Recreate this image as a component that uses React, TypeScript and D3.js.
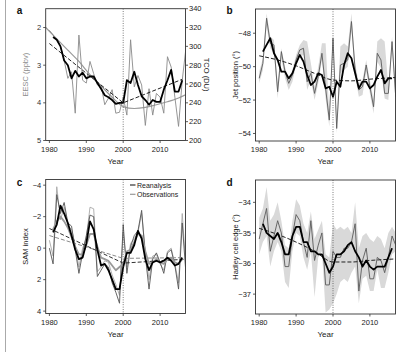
import React from "react";
import * as d3 from "d3";

const FONT = "'Liberation Sans', Arial, Helvetica, sans-serif";

// years: annual values 1980-2017, smoothed values 1981-2016
const annualYears = d3.range(1980, 2018);
const smoothYears = d3.range(1981, 2017);
const xTicks = [1980, 1990, 2000, 2010];

// panel a: total column ozone (DU) and EESC (ppbv)
const tcoAnnual = [317, 312, 307, 300, 285, 266, 273, 229, 312, 264, 261, 284, 271, 259, 259, 238, 245, 254, 229, 230, 246, 227, 307, 257, 269, 259, 216, 255, 227, 250, 246, 229, 289, 278, 246, 215, 264, 298];
const tcoSmooth = [310, 307, 300, 285, 280, 266, 274, 268, 272, 266, 268, 268, 261, 255, 248, 246, 243, 239, 240, 240, 264, 261, 273, 259, 247, 243, 238, 243, 241, 241, 254, 264, 275, 252, 252, 264];
const tcoTrendYears = [1980, 2000, 2016];
const tcoTrend = [303, 240, 265];
const eescYears = [1979, 1982, 1985, 1988, 1991, 1994, 1997, 2000, 2003, 2006, 2009, 2012, 2015, 2017];
const eesc = [2.0, 2.3, 2.6, 2.9, 3.25, 3.55, 3.85, 4.1, 4.15, 4.12, 4.05, 3.97, 3.87, 3.78];

// panel b: jet position (deg)
const jetAnnual = [-50.7, -49.8, -47.1, -48.6, -48.7, -51.5, -49.1, -50.3, -51.0, -50.5, -49.6, -49.0, -48.9, -50.9, -50.4, -51.6, -50.6, -49.2, -51.3, -53.2, -48.3, -53.7, -49.9, -49.8, -49.6, -47.3, -50.2, -51.4, -51.2, -49.9, -51.2, -52.4, -49.2, -49.6, -51.6, -51.6, -48.5, -51.8];
const jetHi = [-50.3, -49.5, -46.8, -48.2, -48.4, -51.0, -48.9, -50.0, -50.8, -50.2, -49.3, -48.7, -48.4, -48.5, -49.8, -51.2, -50.0, -48.6, -48.6, -52.8, -48.0, -53.2, -48.8, -48.6, -48.8, -46.8, -49.8, -51.0, -50.8, -49.6, -50.8, -52.0, -48.5, -48.3, -48.5, -51.2, -48.2, -51.4];
const jetLo = [-51.0, -50.2, -47.6, -48.9, -49.2, -51.9, -49.5, -50.7, -51.4, -50.9, -49.9, -49.4, -49.3, -51.4, -50.8, -52.0, -51.0, -49.6, -51.9, -53.6, -48.8, -54.0, -50.4, -50.2, -50.0, -47.8, -50.6, -51.8, -51.7, -50.3, -51.6, -52.8, -49.7, -50.1, -51.9, -52.0, -48.9, -52.3];
const jetSmooth = [-49.1, -48.7, -48.3, -49.2, -49.6, -50.3, -50.3, -50.7, -50.4, -49.8, -49.3, -49.7, -50.5, -51.1, -50.9, -50.4, -50.5, -51.3, -51.2, -51.8, -50.9, -51.2, -49.9, -49.2, -49.5, -50.4, -51.3, -50.9, -50.9, -51.3, -51.1, -50.6, -50.2, -51.0, -50.7, -50.7];
const jetTrendYears = [1980, 1985, 1990, 1995, 2000, 2005, 2010, 2017];
const jetTrend = [-49.35, -49.6, -49.95, -50.4, -50.8, -50.85, -50.75, -50.65];

// panel c: SAM index
const samReanAnnual = [0.0, 1.0, -3.4, -2.2, -2.9, -1.6, -1.4, 0.1, 1.6, 0.3, -0.8, -2.1, -2.0, 1.8, 1.4, 1.0, 1.2, 2.2, 2.8, 3.5, -1.5, 1.6, -0.1, -0.8, -1.1, -2.4, 0.5, 2.6, 0.7, 0.3, 0.9, 1.6, 0.3, 0.1, 1.1, 2.6, -1.6, 1.6];
const samObsAnnual = [-0.5, 0.5, -3.9, -1.8, -2.6, -1.4, -1.2, -0.2, 1.2, 0.0, -0.6, -2.6, -2.5, 1.5, 1.2, 0.8, 0.9, 1.7, 2.3, 3.0, -1.0, 1.2, -0.3, -0.6, -1.0, -2.2, 0.2, 2.0, 0.5, 0.4, 1.0, 1.4, 0.2, 0.0, 1.0, 2.2, -2.2, 1.2];
const samReanSmooth = [-1.0, -1.5, -2.7, -2.2, -1.6, -0.8, 0.1, 0.7, 0.6, -0.3, -1.7, -1.2, 0.1, 1.1, 1.0, 1.4, 2.0, 2.6, 2.6, 1.2, 0.3, 0.3, -0.2, -1.1, -0.6, 0.7, 1.4, 0.9, 0.8, 0.9, 0.8, 0.6, 0.8, 1.1, 1.0, 0.6];
const samObsSmooth = [-1.2, -1.7, -2.0, -1.7, -1.3, -0.7, -0.1, 0.4, 0.4, -0.2, -0.9, -0.9, -0.1, 0.6, 0.7, 0.8, 1.1, 1.4, 1.2, 1.0, 0.2, 0.1, -0.4, -0.9, -0.8, 0.2, 1.0, 0.9, 0.7, 0.9, 1.0, 0.7, 0.6, 0.9, 1.0, 0.7];
const samTrendYears = [1980, 2000, 2017];
const samReanTrend = [-1.25, 0.95, 0.7];
const samObsTrend = [-0.8, 0.65, 0.6];

// panel d: Hadley cell edge (deg)
const hadleyAnnual = [-35.2, -34.7, -34.2, -35.6, -35.1, -34.6, -35.0, -36.1, -36.1, -35.1, -34.4, -34.6, -35.3, -35.8, -34.6, -35.9, -35.4, -35.0, -36.7, -36.7, -35.6, -35.8, -35.8, -35.5, -35.5, -35.3, -34.7, -36.9, -35.9, -35.5, -36.5, -36.5, -35.8, -35.9, -36.3, -35.8, -35.1, -35.4];
const hadleyHi = [-34.5, -34.2, -33.5, -34.6, -34.4, -34.0, -34.6, -35.4, -35.5, -34.6, -33.9, -34.1, -34.7, -35.0, -34.3, -35.2, -34.9, -34.6, -35.7, -35.8, -34.7, -34.9, -34.8, -34.9, -34.8, -35.0, -34.0, -35.5, -35.1, -35.0, -35.2, -35.3, -35.1, -35.2, -35.5, -35.0, -34.8, -35.0];
const hadleyLo = [-35.7, -35.3, -35.1, -36.1, -35.6, -35.3, -35.6, -36.6, -36.8, -35.6, -35.0, -35.1, -35.8, -36.2, -35.6, -37.1, -35.8, -35.6, -37.6, -37.5, -37.3, -37.0, -36.6, -36.5, -36.6, -36.3, -36.1, -37.3, -36.5, -36.4, -36.9, -36.9, -36.2, -36.8, -36.8, -36.3, -35.7, -35.6];
const hadleySmooth = [-34.7, -35.0, -35.1, -35.2, -35.0, -35.3, -35.7, -35.7, -35.1, -34.8, -34.8, -35.3, -35.3, -35.6, -35.6, -35.7, -35.7, -36.0, -36.3, -36.1, -35.7, -35.7, -35.6, -35.4, -35.3, -35.6, -35.8, -36.1, -35.9, -36.1, -36.2, -36.1, -36.1, -36.1, -35.8, -35.5];
const hadleyTrendYears = [1980, 1985, 1990, 1995, 2000, 2005, 2010, 2017];
const hadleyTrend = [-34.85, -35.05, -35.3, -35.6, -35.95, -35.95, -35.9, -35.85];

type Box = { left: number; right: number; top: number; bottom: number };
type Lin = d3.ScaleLinear<number, number>;

const boxA: Box = { left: 45.7, right: 185.5, top: 8.7, bottom: 140.5 };
const boxB: Box = { left: 255.5, right: 395.5, top: 9, bottom: 141 };
const boxC: Box = { left: 45.7, right: 185.5, top: 179.5, bottom: 313.5 };
const boxD: Box = { left: 255.5, right: 395.5, top: 180, bottom: 314 };

const xScaleFor = (b: Box) =>
  d3.scaleLinear().domain([1980, 2010]).range([b.left + 3.7, b.left + 3.7 + 110.7]);

const linePath = (xs: number[], ys: number[], x: Lin, y: Lin, curve: d3.CurveFactory = d3.curveLinear) =>
  d3.line<number>().x((_, i) => x(xs[i])).y((d) => y(d)).curve(curve)(ys) || "";

const bandPath = (xs: number[], hi: number[], lo: number[], x: Lin, y: Lin) =>
  d3.area<number>().x((_, i) => x(xs[i])).y0((_, i) => y(lo[i])).y1((d) => y(d))(hi) || "";

const fmt = (v: number) => (v < 0 ? "\u2212" + Math.abs(v) : String(v));

function Panel(props: {
  id: string;
  box: Box;
  y: Lin;
  yTicks: number[];
  yLabel: string;
  yLabelColor?: string;
  yTickColor?: string;
  letter: string;
  letterY: number;
  marks: (x: Lin) => React.ReactNode;
}) {
  const { id, box, y, yTicks, yLabel, letter, letterY, marks } = props;
  const x = xScaleFor(box);
  const tickCol = props.yTickColor || "#222";
  return (
    <g>
      <defs>
        <clipPath id={id}>
          <rect x={box.left} y={box.top} width={box.right - box.left} height={box.bottom - box.top} />
        </clipPath>
      </defs>
      <g clipPath={`url(#${id})`}>
        {marks(x)}
        <line x1={x(2000)} x2={x(2000)} y1={box.top} y2={box.bottom} stroke="#333" strokeWidth={0.8} strokeDasharray="0.8,1.6" />
      </g>
      <rect x={box.left} y={box.top} width={box.right - box.left} height={box.bottom - box.top} fill="none" stroke="#333" strokeWidth={0.9} />
      {xTicks.map((t) => (
        <g key={t}>
          <line x1={x(t)} x2={x(t)} y1={box.bottom} y2={box.bottom + 2.5} stroke="#333" strokeWidth={0.8} />
          <text x={x(t)} y={box.bottom + 11} textAnchor="middle" fontSize={7.5} fill="#222">{t}</text>
        </g>
      ))}
      <text x={(box.left + box.right) / 2} y={box.bottom + 23} textAnchor="middle" fontSize={8} fill="#222">Year</text>
      {yTicks.map((t) => (
        <g key={t}>
          <line x1={box.left - 2.5} x2={box.left} y1={y(t)} y2={y(t)} stroke="#333" strokeWidth={0.8} />
          <text x={box.left - 4.5} y={y(t) + 2.6} textAnchor="end" fontSize={7.5} fill={tickCol}>{fmt(t)}</text>
        </g>
      ))}
      <text
        transform={`translate(${box.left - 18},${(box.top + box.bottom) / 2}) rotate(-90)`}
        textAnchor="middle"
        fontSize={7.5}
        fill={props.yLabelColor || "#222"}
      >
        {yLabel}
      </text>
      <text x={box.left - 29} y={letterY} fontSize={10} fontWeight="bold" fill="#111">{letter}</text>
    </g>
  );
}

export default function App() {
  const yEesc = d3.scaleLinear().domain([1.5, 5]).range([boxA.top, boxA.bottom]);
  const yTco = d3.scaleLinear().domain([340, 200]).range([boxA.top, boxA.bottom]);
  const yJet = d3.scaleLinear().domain([-46.55, -54.45]).range([boxB.top, boxB.bottom]);
  const ySam = d3.scaleLinear().domain([-4.36, 4.15]).range([boxC.top, boxC.bottom]);
  const yHad = d3.scaleLinear().domain([-33.27, -37.65]).range([boxD.top, boxD.bottom]);
  const tcoTicks = [200, 220, 240, 260, 280, 300, 320, 340];

  return (
    <svg width={404} height={352} style={{ position: "absolute", left: 0, top: 0, background: "#fff" }} fontFamily={FONT}>
      <rect x={0} y={0} width={404} height={352} fill="#fff" />
      <line x1={5.5} x2={5.5} y1={0} y2={352} stroke="#aaa" strokeWidth={1} />

      <Panel
        id="clipA"
        box={boxA}
        y={yEesc}
        yTicks={[2, 3, 4, 5]}
        yLabel="EESC (ppbv)"
        yLabelColor="#8c8c8c"
        yTickColor="#333"
        letter="a"
        letterY={14}
        marks={(x) => (
          <g fill="none">
            <path d={linePath(eescYears, eesc, x, yEesc, d3.curveMonotoneX)} stroke="#9a9a9a" strokeWidth={1.2} />
            <path d={linePath(annualYears, tcoAnnual, x, yTco)} stroke="#8a8a8a" strokeWidth={0.9} />
            <path d={linePath(tcoTrendYears, tcoTrend, x, yTco)} stroke="#222" strokeWidth={1} strokeDasharray="4,2" />
            <path d={linePath(smoothYears, tcoSmooth, x, yTco)} stroke="#000" strokeWidth={1.8} strokeLinejoin="round" />
          </g>
        )}
      />
      {tcoTicks.map((t) => (
        <g key={t}>
          <line x1={boxA.right} x2={boxA.right + 2.5} y1={yTco(t)} y2={yTco(t)} stroke="#333" strokeWidth={0.8} />
          <text x={boxA.right + 3.5} y={yTco(t) + 2.6} fontSize={7.5} fill="#222">{t}</text>
        </g>
      ))}
      <text transform={`translate(${boxA.right + 18.5},${(boxA.top + boxA.bottom) / 2}) rotate(90)`} textAnchor="middle" fontSize={7.5} fill="#222">
        TCO (DU)
      </text>

      <Panel
        id="clipB"
        box={boxB}
        y={yJet}
        yTicks={[-48, -50, -52, -54]}
        yLabel="Jet position (°)"
        letter="b"
        letterY={14}
        marks={(x) => (
          <g fill="none">
            <path d={bandPath(annualYears, jetHi, jetLo, x, yJet)} fill="#d9d9d9" stroke="none" />
            <path d={linePath(annualYears, jetAnnual, x, yJet)} stroke="#5a5a5a" strokeWidth={0.9} />
            <path d={linePath(jetTrendYears, jetTrend, x, yJet, d3.curveMonotoneX)} stroke="#222" strokeWidth={1} strokeDasharray="4,2" />
            <path d={linePath(smoothYears, jetSmooth, x, yJet)} stroke="#000" strokeWidth={1.8} strokeLinejoin="round" />
          </g>
        )}
      />

      <Panel
        id="clipC"
        box={boxC}
        y={ySam}
        yTicks={[-4, -2, 0, 2, 4]}
        yLabel="SAM index"
        letter="c"
        letterY={186}
        marks={(x) => (
          <g fill="none">
            <path d={linePath(annualYears, samObsAnnual, x, ySam)} stroke="#a8a8a8" strokeWidth={0.9} />
            <path d={linePath(annualYears, samReanAnnual, x, ySam)} stroke="#555" strokeWidth={0.9} />
            <path d={linePath(samTrendYears, samObsTrend, x, ySam)} stroke="#8a8a8a" strokeWidth={1} strokeDasharray="4,2" />
            <path d={linePath(samTrendYears, samReanTrend, x, ySam)} stroke="#333" strokeWidth={1} strokeDasharray="4,2" />
            <path d={linePath(smoothYears, samObsSmooth, x, ySam)} stroke="#9a9a9a" strokeWidth={1.8} strokeLinejoin="round" />
            <path d={linePath(smoothYears, samReanSmooth, x, ySam)} stroke="#000" strokeWidth={1.8} strokeLinejoin="round" />
          </g>
        )}
      />
      <g fontSize={7}>
        <line x1={130} x2={135.5} y1={185} y2={185} stroke="#333" strokeWidth={1.2} />
        <text x={137} y={187.5} fill="#222">Reanalysis</text>
        <line x1={130} x2={135.5} y1={194.3} y2={194.3} stroke="#999" strokeWidth={1.2} />
        <text x={137} y={196.8} fill="#222">Observations</text>
      </g>

      <Panel
        id="clipD"
        box={boxD}
        y={yHad}
        yTicks={[-34, -35, -36, -37]}
        yLabel="Hadley cell edge (°)"
        letter="d"
        letterY={186}
        marks={(x) => (
          <g fill="none">
            <path d={bandPath(annualYears, hadleyHi, hadleyLo, x, yHad)} fill="#d9d9d9" stroke="none" />
            <path d={linePath(annualYears, hadleyAnnual, x, yHad)} stroke="#5a5a5a" strokeWidth={0.9} />
            <path d={linePath(hadleyTrendYears, hadleyTrend, x, yHad, d3.curveMonotoneX)} stroke="#222" strokeWidth={1} strokeDasharray="4,2" />
            <path d={linePath(smoothYears, hadleySmooth, x, yHad)} stroke="#000" strokeWidth={1.8} strokeLinejoin="round" />
          </g>
        )}
      />
    </svg>
  );
}
